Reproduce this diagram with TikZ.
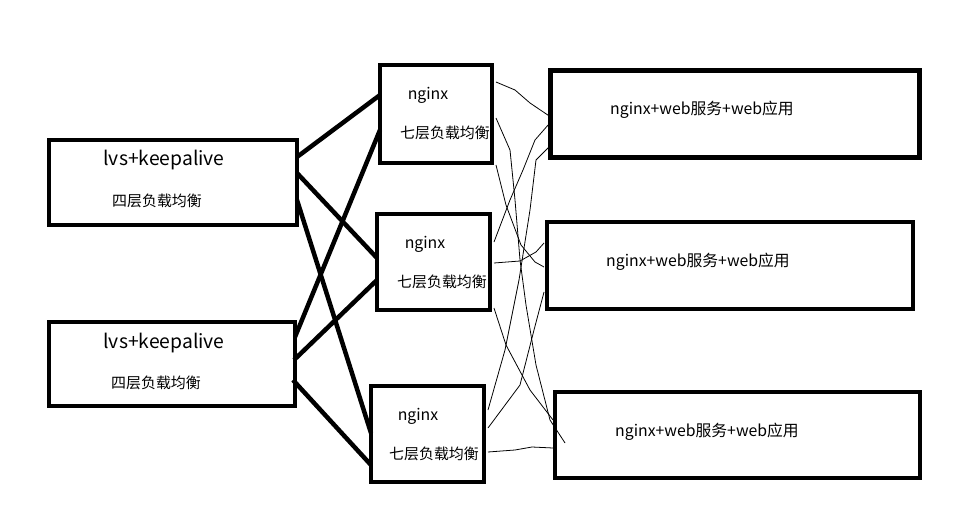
\documentclass[tikz,border=0pt]{standalone}
\usepackage{fontspec}
\setmainfont{Noto Sans CJK SC}
\usepackage{tikz}
\usetikzlibrary{calc}

\begin{document}
\begin{tikzpicture}[x=0.02cm, y=-0.02cm,
  box/.style={draw, line width=0.095cm, outer sep=0pt, inner sep=0pt},
  link/.style={line width=0.09cm},
  wire/.style={line width=0.45pt, line join=round},
  lbl/.style={inner sep=0pt, font=\fontsize{9}{11}\selectfont},
  cn/.style={inner sep=0pt, font=\fontsize{8.5}{10}\selectfont}]
\useasboundingbox (0,0) rectangle (968,523);
%
\node[box, minimum width=4.96cm, minimum height=1.70cm] (l1) at (173,182.5) {};
\node[box, minimum width=4.92cm, minimum height=1.68cm] (l2) at (172,364) {};
\node[lbl, font=\fontsize{11}{13}\selectfont] (l1t) at (164,160) {lvs+keepalive};
\node[cn] (l1c) at (157,201) {四层负载均衡};
\node[lbl, font=\fontsize{11}{13}\selectfont] (l2t) at (164,343) {lvs+keepalive};
\node[cn] (l2c) at (156,383) {四层负载均衡};
%
\node[box, minimum width=2.24cm, minimum height=1.96cm] (n1) at (436,114) {};
\node[box, minimum width=2.26cm, minimum height=1.92cm] (n2) at (433.5,262) {};
\node[box, minimum width=2.26cm, minimum height=1.92cm] (n3) at (427.5,434) {};
\node[lbl] (n1t) at (428,95) {nginx};
\node[cn] (n1c) at (445,133) {七层负载均衡};
\node[lbl] (n2t) at (425,244) {nginx};
\node[cn] (n2c) at (442,282) {七层负载均衡};
\node[lbl] (n3t) at (418,416) {nginx};
\node[cn] (n3c) at (434,454) {七层负载均衡};
%
\node[box, minimum width=7.38cm, minimum height=1.74cm] (a1) at (735,114) {};
\node[box, minimum width=7.32cm, minimum height=1.74cm] (a2) at (730,265.5) {};
\node[box, minimum width=7.30cm, minimum height=1.72cm] (a3) at (737.5,435) {};
\node[lbl] (a1t) at (702,110) {nginx+web服务+web应用};
\node[lbl] (a2t) at (698,262) {nginx+web服务+web应用};
\node[lbl] (a3t) at (707,432) {nginx+web服务+web应用};
%
\draw[link] ($(l1.north east)+(0,17)$) -- ($(n1.north west)+(0,30)$);
\draw[link] ($(l1.north east)+(0,33)$) -- ($(n2.north west)+(0,44)$);
\draw[link] ($(l1.north east)+(0,60)$) -- ($(n3.north west)+(0,47)$);
\draw[link] ($(l2.north east)+(0,15)$) -- ($(n1.north west)+(0,65)$);
\draw[link] ($(l2.north east)+(-1,38)$) -- ($(n2.north west)+(0,66)$);
\draw[link] ($(l2.north east)+(-2,58)$) -- ($(n3.north west)+(0,79)$);
%
\draw[wire] ($(n1.north east)+(4,17)$) -- (515,90) -- (530,103) -- ($(a1.north west)+(-2,45)$);
\draw[wire] ($(n1.north east)+(4,53)$) -- (510,150) -- (515,200) -- (520,260) -- (526,305) -- (536,365) -- (550,420) -- ($(a3.north west)+(10,51)$);
\draw[wire] ($(n1.north east)+(4,100)$) -- (506,205) -- (521,245) -- (535,262) -- ($(a2.north west)+(-3,45)$);
\draw[wire] ($(n2.north east)+(4,28)$) -- (510,200) -- (523,170) -- (535,140) -- ($(a1.north west)+(-2,54)$);
\draw[wire] ($(n2.north east)+(4,49)$) -- (520,261) -- (536,252) -- ($(a2.north west)+(-3,21)$);
\draw[wire] ($(n2.north east)+(4,94)$) -- (506,345) -- (530,390) -- ($(a3.north west)+(-2,28)$);
\draw[wire] ($(n3.north east)+(4,24)$) -- (505,350) -- (519,280) -- (530,210) -- (536,160) -- ($(a1.north west)+(-2,77)$);
\draw[wire] ($(n3.north east)+(4,42)$) -- (520,385) -- (534,330) -- ($(a2.north west)+(-3,70)$);
\draw[wire] ($(n3.north east)+(4,66)$) -- (515,450) -- (532,447) -- ($(a3.north west)+(-2,56)$);
\end{tikzpicture}
\end{document}
